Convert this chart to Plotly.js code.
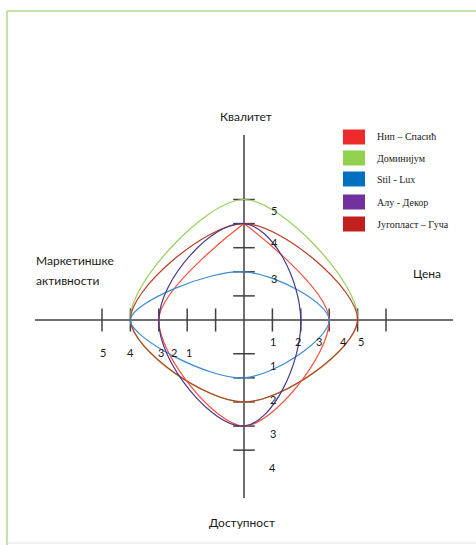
<!DOCTYPE html>
<html><head><meta charset="utf-8">
<script src="https://cdn.plot.ly/plotly-3.0.1.min.js"></script>
<style>html,body{margin:0;padding:0;background:#fff}#chart{width:476px;height:545px}</style>
</head><body><div id="chart"></div>
<script>
// ---------- DATA ----------
const seriesNames = ['Нип – Спасић', 'Доминијум', 'Stil - Lux', 'Алу - Декор', 'Југопласт – Гуча'];
// distance from the centre along each axis (axis units)
const kvalitet   = [4,   5,   2,   4,   4  ];   // up
const cena       = [3,   4,   3,   2,   4  ];   // right
const dostupnost = [4.4, 3.4, 2.4, 4.4, 3.4];   // down
const marketing  = [3,   4,   4,   3,   4  ];   // left

const axisNames = ['Квалитет', 'Цена', 'Доступност', 'Маркетиншке', 'активности'];
const rightTickLabels  = ['1', '2', '3', '4', '5'];
const leftTickLabels   = ['5', '4', '3', '2', '1'];
const topTickLabels    = ['5', '4', '3'];
const bottomTickLabels = ['1', '2', '3', '4'];

// ---------- STYLE ----------
const legendColors = ['#EE2B2B', '#92D050', '#0070C0', '#7030A0', '#C0201E'];
const lineColors   = ['#FF4B3A', '#98CF5E', '#3A8BD6', '#46398A', '#BC3A24'];
const smoothing    = [1.0, 1.0, 1.0, 1.25, 1.0];
const cuspTop      = [true, false, false, false, false];

const W = 476, H = 545;
const ux = 28.4, uy = 24.1, cx = 244, cy = 320;
const xr = [-cx / ux, (W - cx) / ux];
const yr = [-(H - cy) / uy, cy / uy];
const PX = p => p / W, PY = p => 1 - p / H;

// tick positions (axis units)
const hTicks = [1, 2, 3, 4, 5];
const vTicksUp = [1, 2, 3, 4, 5];
const vTicksDown = [1.4, 2.4, 3.4, 4.4, 5.4];

// ---------- TRACES ----------
const traces = seriesNames.map((name, i) => {
  const x = [0, cena[i], 0, -marketing[i], 0];
  const y = [kvalitet[i], 0, -dostupnost[i], 0, kvalitet[i]];
  if (cuspTop[i]) { x.push(0); y.push(kvalitet[i]); }
  return {
    type: 'scatter', mode: 'lines', name: name, x: x, y: y,
    line: { color: lineColors[i], width: 1.2, shape: 'spline', smoothing: smoothing[i], simplify: false },
    hoverinfo: 'skip', showlegend: false
  };
});
const order = [1, 4, 0, 2, 3];
const data = order.map(i => traces[i]);

// ---------- SHAPES ----------
const axisColor = '#404040';
const shapes = [];
shapes.push({ type: 'line', xref: 'x', yref: 'y', x0: -7.36, x1: 7.36, y0: 0, y1: 0, layer: 'below', line: { color: axisColor, width: 1.5 } });
shapes.push({ type: 'line', xref: 'x', yref: 'y', x0: 0, x1: 0, y0: -7.39, y1: 7.68, layer: 'below', line: { color: axisColor, width: 1.5 } });
hTicks.forEach(t => {
  [t, -t].forEach(v => shapes.push({ type: 'line', xref: 'x', yref: 'y', x0: v, x1: v, y0: -0.48, y1: 0.48, layer: 'below', line: { color: axisColor, width: 1.5 } }));
});
vTicksUp.forEach(t => shapes.push({ type: 'line', xref: 'x', yref: 'y', x0: -0.38, x1: 0.38, y0: t, y1: t, layer: 'below', line: { color: axisColor, width: 1.5 } }));
vTicksDown.forEach(t => shapes.push({ type: 'line', xref: 'x', yref: 'y', x0: -0.38, x1: 0.38, y0: -t, y1: -t, layer: 'below', line: { color: axisColor, width: 1.5 } }));

// frame
shapes.push({ type: 'line', xref: 'paper', yref: 'paper', x0: PX(7), x1: PX(480), y0: PY(11), y1: PY(11), line: { color: '#C6E2A6', width: 2 } });
shapes.push({ type: 'line', xref: 'paper', yref: 'paper', x0: PX(7), x1: PX(7), y0: PY(11), y1: PY(550), line: { color: '#C6E2A6', width: 2 } });
shapes.push({ type: 'line', xref: 'paper', yref: 'paper', x0: PX(7), x1: PX(480), y0: PY(543), y1: PY(543), line: { color: '#E2E2E2', width: 1 } });

// legend boxes
const legX0 = 343, legX1 = 365, legY = [137, 158, 179, 202, 224], legH = 15;
seriesNames.forEach((n, i) => {
  shapes.push({ type: 'rect', xref: 'paper', yref: 'paper', x0: PX(legX0), x1: PX(legX1), y0: PY(legY[i] - legH / 2), y1: PY(legY[i] + legH / 2), fillcolor: legendColors[i], line: { width: 0 } });
});

// ---------- ANNOTATIONS ----------
const sans = 'Lato, Carlito, Arial, sans-serif';
const ann = [];
const txt = (text, x, y, xanchor, size, font) => ann.push({ text: text, x: x, y: y, xref: 'x', yref: 'y', showarrow: false, xanchor: xanchor || 'center', yanchor: 'middle', font: { family: font || sans, size: size || 12, color: '#1a1a1a' } });
txt(axisNames[0], 0.07, 8.46, 'center', 12);
txt(axisNames[1], 6.45, 1.95, 'center', 12);
txt(axisNames[2], -0.07, -8.42, 'center', 12);
txt(axisNames[3], -7.4, 2.45, 'left', 12);
txt(axisNames[4], -7.4, 1.62, 'left', 12);
// tick numbers
const rightLabX = [1.02, 1.90, 2.64, 3.49, 4.12];
rightTickLabels.forEach((t, i) => txt(t, rightLabX[i], -0.91, 'center', 11));
const leftLabX = [-4.96, -4.01, -2.92, -2.46, -1.94];
leftTickLabels.forEach((t, i) => txt(t, leftLabX[i], -1.33, 'center', 11));
const topLabY = [4.56, 3.20, 1.74];
topTickLabels.forEach((t, i) => txt(t, 1.06, topLabY[i], 'center', 11));
const bottomLabY = [-1.87, -3.28, -4.73, -6.14];
bottomTickLabels.forEach((t, i) => txt(t, 1.02, bottomLabY[i], 'center', 11));
// legend text
seriesNames.forEach((n, i) => ann.push({ text: n, x: PX(375), y: PY(legY[i]), xref: 'paper', yref: 'paper', showarrow: false, xanchor: 'left', yanchor: 'middle', font: { family: 'Liberation Serif, Times New Roman, serif', size: 10, color: '#1a1a1a' } }));

const layout = {
  width: W, height: H,
  margin: { l: 0, r: 0, t: 0, b: 0 },
  paper_bgcolor: '#ffffff', plot_bgcolor: '#ffffff',
  xaxis: { range: xr, visible: false, fixedrange: true },
  yaxis: { range: yr, visible: false, fixedrange: true },
  showlegend: false,
  shapes: shapes,
  annotations: ann
};
Plotly.newPlot('chart', data, layout, { staticPlot: true, displayModeBar: false });
</script>
</body></html>
